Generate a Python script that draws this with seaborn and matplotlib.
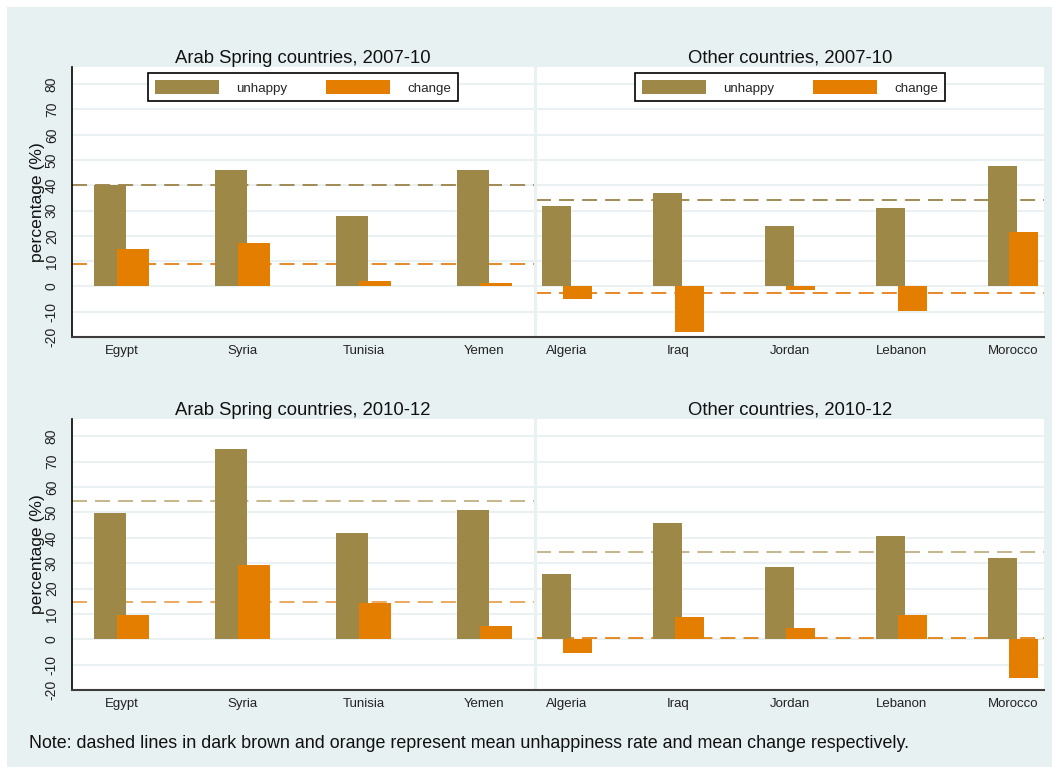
import numpy as np
import seaborn as sns
import matplotlib
matplotlib.use("Agg")
import matplotlib.pyplot as plt
from matplotlib.patches import Patch, Rectangle

# ---- data -------------------------------------------------------------
arab_countries = ["Egypt", "Syria", "Tunisia", "Yemen"]
other_countries = ["Algeria", "Iraq", "Jordan", "Lebanon", "Morocco"]

arab_unhappy_0710 = [40.0, 46.2, 27.8, 46.2]
arab_change_0710 = [14.9, 17.1, 2.0, 1.2]
other_unhappy_0710 = [31.7, 37.1, 23.9, 31.2, 47.6]
other_change_0710 = [-5.1, -18.0, -1.6, -9.9, 21.7]

arab_unhappy_1012 = [49.6, 75.1, 41.7, 51.1]
arab_change_1012 = [9.6, 29.3, 14.3, 5.1]
other_unhappy_1012 = [25.8, 45.8, 28.3, 40.8, 32.1]
other_change_1012 = [-5.5, 8.9, 4.5, 9.6, -15.3]

panel_titles = ["Arab Spring countries, 2007-10", "Other countries, 2007-10",
                "Arab Spring countries, 2010-12", "Other countries, 2010-12"]
series_labels = ["unhappy", "change"]
y_ticks = list(range(-20, 81, 10))
note = ("Note: dashed lines in dark brown and orange represent mean "
        "unhappiness rate and mean change respectively.")

# ---- style ------------------------------------------------------------
sns.set_style("white")
plt.rcParams["font.family"] = ["Liberation Sans", "DejaVu Sans"]
plt.rcParams["axes.unicode_minus"] = False

BG = "#E8F1F2"
GRID = "#EAF1F2"
C_UNHAPPY = "#9D8848"
C_CHANGE = "#E37E00"
BAR_W = 0.26
OFFSET = 0.095

W, H = 1052, 767
fig = plt.figure(figsize=(W / 100, H / 100), dpi=100)
fig.patch.set_facecolor("white")
fig.add_artist(Rectangle((7 / W, 0), 1 - 7 / W, 1 - 7 / H,
                         transform=fig.transFigure, facecolor=BG,
                         edgecolor="none", zorder=-1))


def px_axes(x0, y0, x1, y1):
    """Axes from pixel box (left, top, right, bottom)."""
    return fig.add_axes([x0 / W, 1 - y1 / H, (x1 - x0) / W, (y1 - y0) / H])


panels = [
    dict(box=(72, 67, 534, 337), countries=arab_countries,
         unhappy=arab_unhappy_0710, change=arab_change_0710,
         xlim=(-0.41, 3.41), left=True, legend=True,
         lc=("#A08B55", "#E8882A")),
    dict(box=(536, 67, 1044, 337), countries=other_countries,
         unhappy=other_unhappy_0710, change=other_change_0710,
         xlim=(-0.278, 4.278), left=False, legend=True,
         lc=("#A08B55", "#E8882A")),
    dict(box=(72, 419, 534, 690), countries=arab_countries,
         unhappy=arab_unhappy_1012, change=arab_change_1012,
         xlim=(-0.41, 3.41), left=True, legend=False,
         lc=("#C6B589", "#EDA860")),
    dict(box=(536, 419, 1044, 690), countries=other_countries,
         unhappy=other_unhappy_1012, change=other_change_1012,
         xlim=(-0.278, 4.278), left=False, legend=False,
         lc=("#C6B589", "#E58A20")),
]

for title, p in zip(panel_titles, panels):
    ax = px_axes(*p["box"])
    ax.set_facecolor("white")
    countries = p["countries"]

    # unhappy bars, shifted left of the category centre
    n0 = len(ax.patches)
    sns.barplot(x=countries, y=p["unhappy"], order=countries, color=C_UNHAPPY,
                saturation=1, width=BAR_W, errorbar=None, linewidth=0, ax=ax)
    for bar in ax.patches[n0:]:
        bar.set_x(bar.get_x() - OFFSET)

    # change bars, shifted right and drawn over the unhappy bars
    n0 = len(ax.patches)
    sns.barplot(x=countries, y=p["change"], order=countries, color=C_CHANGE,
                saturation=1, width=BAR_W, errorbar=None, linewidth=0, ax=ax)
    for bar in ax.patches[n0:]:
        bar.set_x(bar.get_x() + OFFSET)

    # dashed mean lines behind the bars
    lw = 1.4
    dash = (0, (10.8 / lw, 5.8 / lw))
    ax.axhline(np.mean(p["unhappy"]), color=p["lc"][0], lw=lw, ls=dash, zorder=0.95)
    ax.axhline(np.mean(p["change"]), color=p["lc"][1], lw=lw, ls=dash, zorder=0.95)

    ax.set_xlim(*p["xlim"])
    ax.set_ylim(-20, 86.8)
    ax.set_yticks(y_ticks)
    ax.yaxis.grid(True, color=GRID, lw=1.5)
    ax.xaxis.grid(False)
    ax.set_axisbelow(True)

    for side in ("top", "right"):
        ax.spines[side].set_visible(False)
    ax.spines["bottom"].set_color("#3C3C3C")
    ax.spines["bottom"].set_linewidth(1.5)

    ax.tick_params(axis="x", length=0, pad=6, labelsize=9.5, labelcolor="#222222")
    if p["left"]:
        ax.spines["left"].set_color("black")
        ax.spines["left"].set_linewidth(1.2)
        ax.tick_params(axis="y", length=6, width=1.0, color="black", pad=3.5,
                       labelsize=10, labelcolor="#222222", labelrotation=90)
        for lab in ax.get_yticklabels():
            lab.set_va("center")
    else:
        ax.spines["left"].set_color(GRID)
        ax.spines["left"].set_linewidth(1.5)
        ax.tick_params(axis="y", length=0, labelleft=False)

    ax.set_xlabel("")
    ax.set_ylabel("")
    ax.set_title(title, fontsize=13.3, pad=3, color="#111111")

    if p["legend"]:
        handles = [Patch(facecolor=C_UNHAPPY, edgecolor="none"),
                   Patch(facecolor=C_CHANGE, edgecolor="none")]
        leg = ax.legend(handles, series_labels, loc="upper center",
                        bbox_to_anchor=(0.5, 1.0), ncol=2, frameon=True,
                        fancybox=False, framealpha=1, edgecolor="black",
                        fontsize=9.6, handlelength=4.8, handleheight=1.28,
                        handletextpad=1.3, columnspacing=2.9, borderpad=0.5,
                        borderaxespad=0.47)
        leg.get_frame().set_linewidth(1.2)

# y-axis titles for the left column
for yc in (202, 554):
    fig.text(38 / W, 1 - yc / H, "percentage (%)", rotation=90,
             ha="center", va="center", fontsize=12.6, color="#111111")

fig.text(29 / W, 1 - 743 / H, note, ha="left", va="center",
         fontsize=12.85, color="#111111")

fig.savefig("out.png", dpi=100, facecolor=fig.get_facecolor())
